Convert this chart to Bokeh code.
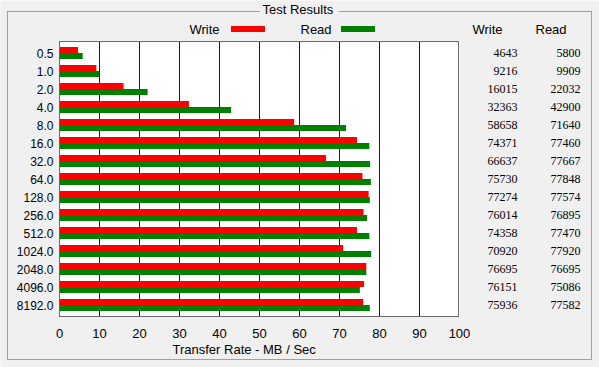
from bokeh.plotting import figure
from bokeh.models import ColumnDataSource, Range1d, FixedTicker, LabelSet, Label, BoxAnnotation
from bokeh.transform import dodge
from bokeh.embed import file_html
from bokeh.resources import INLINE

# ---- data: transfer size (KB) and measured rates (KB/s) ----
sizes = ["0.5", "1.0", "2.0", "4.0", "8.0", "16.0", "32.0", "64.0", "128.0",
         "256.0", "512.0", "1024.0", "2048.0", "4096.0", "8192.0"]
write_kb = [4643, 9216, 16015, 32363, 58658, 74371, 66637, 75730, 77274,
            76014, 74358, 70920, 76695, 76151, 75936]
read_kb = [5800, 9909, 22032, 42900, 71640, 77460, 77667, 77848, 77574,
           76895, 77470, 77920, 76695, 75086, 77582]
x_ticks = [0, 10, 20, 30, 40, 50, 60, 70, 80, 90, 100]
grid_ticks = [10, 20, 30, 40, 50, 60, 70, 80, 90]

FONT = "Liberation Sans"
BG = "#F0F0F0"
EDGE = "#A0A0A0"
W, H = 599, 367

# layout geometry (pixels); Bokeh renders with a +0.5px offset, so fills are
# placed on half pixels to come out crisp
X0, PX_PER_UNIT = 59.0, 4.0
ROW0, ROW_PX = 52.5, 18.0
PAD = 11.5 / ROW_PX

n = len(sizes)
idx = list(range(n))
src = ColumnDataSource(dict(
    idx=idx,
    write=[w / 1000 for w in write_kb],
    read=[r / 1000 for r in read_kb],
    wtxt=[str(w) for w in write_kb],
    rtxt=[str(r) for r in read_kb],
))

x_range = Range1d(-X0 / PX_PER_UNIT, (W - X0) / PX_PER_UNIT)
y_range = Range1d((H - ROW0) / ROW_PX, -ROW0 / ROW_PX)

p = figure(width=W, height=H, output_backend="svg", toolbar_location=None, title=None,
           x_range=x_range, y_range=y_range, min_border=0)
p.background_fill_color = BG
p.border_fill_color = BG
p.outline_line_color = None

box_top, box_bottom = -PAD, (n - 1) + PAD

# plot box
p.add_layout(BoxAnnotation(left=x_ticks[0], right=x_ticks[-1], top=box_top, bottom=box_bottom,
                           fill_color="white", fill_alpha=1, line_color=None, level="underlay"))

# vertical grid lines (1 px wide)
p.vbar(x=grid_ticks, width=1 / PX_PER_UNIT, top=box_top, bottom=box_bottom,
       fill_color="#0000FF", line_color=None)

# bars
p.hbar(y=dodge("idx", -1 / 6, range=p.y_range), left=0, right="write", height=1 / 3,
       fill_color="#FF0000", line_color=None, source=src)
p.hbar(y=dodge("idx", 1 / 6, range=p.y_range), left=0, right="read", height=1 / 3,
       fill_color="#008000", line_color=None, source=src)

p.xgrid.visible = False
p.ygrid.visible = False

ax = p.xaxis[0]
ax.fixed_location = box_bottom
ax.ticker = FixedTicker(ticks=x_ticks)
ax.axis_line_color = None
ax.major_tick_line_color = None
ax.minor_tick_line_color = None
ax.major_tick_out = 0
ax.major_tick_in = 0
ax.major_label_standoff = 12
ax.major_label_text_font = FONT
ax.major_label_text_font_size = "13px"
ax.major_label_text_color = "black"

ay = p.yaxis[0]
ay.fixed_location = x_ticks[0]
ay.ticker = FixedTicker(ticks=idx)
ay.major_label_overrides = {i: s for i, s in zip(idx, sizes)}
ay.axis_line_color = None
ay.major_tick_line_color = None
ay.minor_tick_line_color = None
ay.major_tick_out = 0
ay.major_tick_in = 0
ay.major_label_standoff = 6
ay.major_label_text_font = FONT
ay.major_label_text_font_size = "12px"
ay.major_label_text_color = "black"


def add_box(l, r, t, b, color):
    # pixel rectangle [l, r) x [t, b), compensated for the half-pixel render offset
    p.add_layout(BoxAnnotation(left=l - 0.5, right=r - 0.5, top=t - 0.5, bottom=b - 0.5,
                               left_units="canvas", right_units="canvas", top_units="canvas",
                               bottom_units="canvas", fill_color=color, fill_alpha=1,
                               line_color=None, level="overlay"))


# plot box border (1px, dark grey)
BORDER = "#6A6A6A"
add_box(59, 459, 41, 42, BORDER)
add_box(59, 459, 316, 317, BORDER)
add_box(59, 60, 41, 317, BORDER)
add_box(458, 459, 41, 317, BORDER)

# group box
add_box(7, 260, 11, 12, EDGE)
add_box(339, 592, 11, 12, EDGE)
add_box(7, 8, 11, 360, EDGE)
add_box(591, 592, 11, 360, EDGE)
add_box(7, 592, 359, 360, EDGE)

# legend swatches
add_box(231, 265, 26, 32, "#FF0000")
add_box(341, 375, 26, 32, "#008000")

# value columns
for field, xr in (("wtxt", 517), ("rtxt", 580)):
    p.add_layout(LabelSet(x=xr, y="idx", text=field, source=src, x_units="canvas", y_units="data",
                          text_align="right", text_baseline="middle", text_font=FONT,
                          text_font_size="12px", text_color="black"))


def add_text(x, y, txt, size="13px", align="left"):
    p.add_layout(Label(x=x, y=y, x_units="canvas", y_units="canvas", text=txt, text_font=FONT,
                       text_font_size=size, text_color="black", text_align=align,
                       text_baseline="alphabetic"))


add_text(262, 9, "Test Results")
add_text(189, 29, "Write")
add_text(300, 29, "Read")
add_text(472, 29, "Write")
add_text(535, 29, "Read")
add_text(172, 349, "Transfer Rate - MB / Sec")

open("out.html", "w").write(file_html(p, INLINE))
